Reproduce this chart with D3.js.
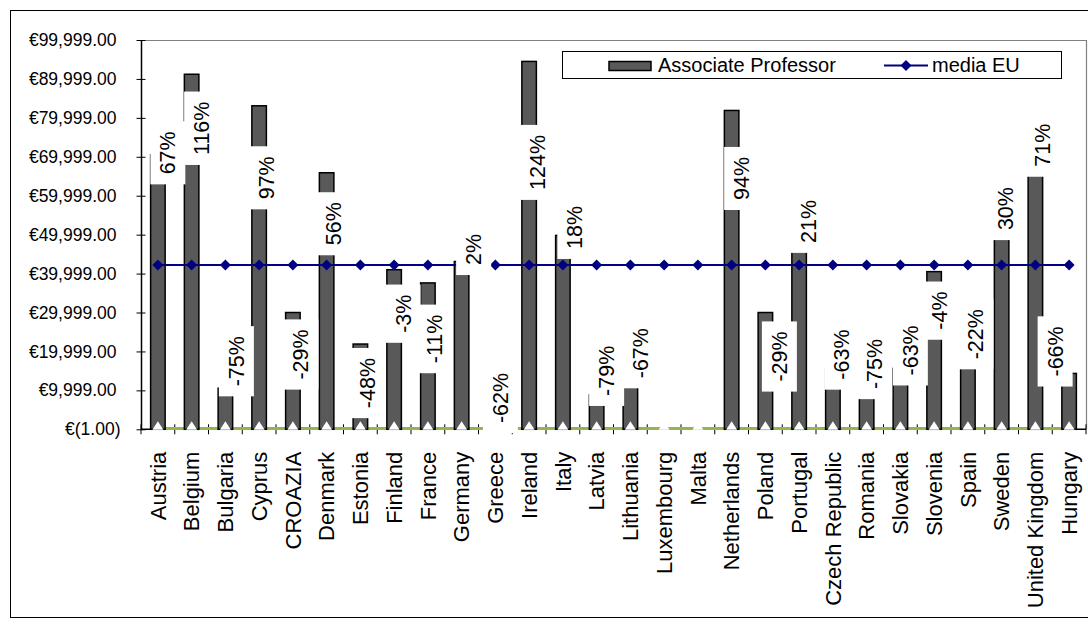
<!DOCTYPE html>
<html>
<head>
<meta charset="utf-8">
<script src="https://cdn.jsdelivr.net/npm/d3@7"></script>
<style>
  html, body { margin: 0; padding: 0; background: #fff; }
  svg { display: block; font-family: "Liberation Sans", Arial, sans-serif; }
</style>
</head>
<body>
<svg id="chart" width="1088" height="624"></svg>
<script>
// ---- data ---------------------------------------------------------------
const countries = [
  "Austria", "Belgium", "Bulgaria", "Cyprus", "CROAZIA", "Denmark", "Estonia",
  "Finland", "France", "Germany", "Greece", "Ireland", "Italy", "Latvia",
  "Lithuania", "Luxembourg", "Malta", "Netherlands", "Poland", "Portugal",
  "Czech Republic", "Romania", "Slovakia", "Slovenia", "Spain", "Sweden",
  "United Kingdom", "Hungary"
];

// Associate Professor salary (EUR); null = no figure available
const associateProfessor = [
  70500, 91200, 10550, 83100, 30000, 65900, 21900,
  41000, 37600, 43100, 16000, 94500, 49800, 8850,
  13900, null, null, 81900, 30000, 51100,
  15600, 10600, 15650, 40500, 32900, 54900,
  72200, 14350
];

// EU average, repeated for every country
const mediaEU = [
  42200, 42200, 42200, 42200, 42200, 42200, 42200,
  42200, 42200, 42200, 42200, 42200, 42200, 42200,
  42200, 42200, 42200, 42200, 42200, 42200,
  42200, 42200, 42200, 42200, 42200, 42200,
  42200, 42200
];

// auxiliary series sitting on the zero line
const zeroSeries = [
  0, 0, 0, 0, 0, 0, 0, 0, 0, 0, 0, 0, 0, 0,
  0, 0, 0, 0, 0, 0, 0, 0, 0, 0, 0, 0, 0, 0
];

const yTicks = [-1, 9999, 19999, 29999, 39999, 49999, 59999, 69999, 79999, 89999, 99999];

const seriesNames = ["Associate Professor", "media EU"];

// ---- layout -------------------------------------------------------------
const plot = { left: 141, right: 1086, top: 40, bottom: 429.3 };

// placement of each percentage label relative to the top of its bar [dx, dy]
const labelNudge = [
  [10, -2], [10, 54], [11, -27], [7, 72], [8, 42], [7, 51], [7, 39],
  [9, 44], [7, 56], [12, -12], [5, 31], [8, 101], [12, -8], [10, -24],
  [10, -22], [0, 0], [0, 0], [10, 68], [14, 44], [9, -9],
  [9, -14], [8, -24], [10, -18], [5, 39], [8, 33], [4, -7],
  [7, -3], [-14, -22]
];

const svg = d3.select("#chart");

const x = d3.scaleBand()
  .domain(countries)
  .range([plot.left, plot.right])
  .paddingInner(0.57)
  .paddingOuter(0.285);

const y = d3.scaleLinear()
  .domain([yTicks[0], yTicks[yTicks.length - 1]])
  .range([plot.bottom, plot.top]);

const cx = c => x(c) + x.bandwidth() / 2;
const fmtNum = d3.format(",.2f");
const fmtEuro = v => v < 0 ? "€(" + fmtNum(-v) + ")" : "€" + fmtNum(v);

// outer chart frame
svg.append("rect")
  .attr("x", 10.5).attr("y", 10.5)
  .attr("width", 1090).attr("height", 607)
  .attr("fill", "none").attr("stroke", "#000").attr("stroke-width", 1);

// plot area frame (top and right edges)
svg.append("path")
  .attr("d", `M${plot.left},${plot.top + 0.5}H${plot.right + 0.5}V${plot.bottom}`)
  .attr("fill", "none").attr("stroke", "#808080").attr("stroke-width", 1.2);

// ---- y axis -------------------------------------------------------------
const yAxis = svg.append("g")
  .attr("transform", `translate(${plot.left},0)`)
  .call(d3.axisLeft(y).tickValues(yTicks).tickFormat(fmtEuro).tickSizeOuter(0));
yAxis.select(".domain").attr("stroke", "#000").attr("stroke-width", 1.5);
yAxis.selectAll(".tick line").attr("x1", -4.5).attr("x2", 4.5).attr("stroke", "#000");
yAxis.selectAll(".tick text")
  .attr("x", d => d < 0 ? -20.5 : -24.5)
  .attr("font-size", 17.5)
  .attr("font-family", "Liberation Sans, Arial, sans-serif")
  .attr("fill", "#000");

// ---- x axis -------------------------------------------------------------
const xAxis = svg.append("g")
  .attr("transform", `translate(0,${y(0)})`)
  .call(d3.axisBottom(x).tickSize(0).tickSizeOuter(0));
xAxis.select(".domain")
  .attr("d", `M${plot.left},0H${plot.right}`)
  .attr("stroke", "#000").attr("stroke-width", 1.5);
xAxis.selectAll(".tick text")
  .attr("transform", "rotate(-90)")
  .attr("x", -22.4).attr("y", 0).attr("dy", "0.35em")
  .attr("text-anchor", "end")
  .attr("font-size", 22)
  .attr("font-family", "Liberation Sans, Arial, sans-serif")
  .attr("fill", "#000");
// tick marks sit between categories and cross the axis
xAxis.selectAll(".sep")
  .data(d3.range(countries.length + 1))
  .join("line")
  .attr("class", "sep")
  .attr("x1", i => plot.left + i * x.step())
  .attr("x2", i => plot.left + i * x.step())
  .attr("y1", -5).attr("y2", 5)
  .attr("stroke", "#000").attr("stroke-width", 1);

// ---- zero-line series (green) --------------------------------------------
svg.append("path")
  .datum(zeroSeries)
  .attr("fill", "none")
  .attr("stroke", "#92b54e")
  .attr("stroke-width", 3.2)
  .attr("transform", "translate(0,-0.8)")
  .attr("d", d3.line().x((d, i) => cx(countries[i])).y(d => y(d)));

// ---- bars ---------------------------------------------------------------
const barData = countries.map((c, i) => ({ c, v: associateProfessor[i], i }))
  .filter(d => d.v != null);

svg.append("g").selectAll("rect")
  .data(barData)
  .join("rect")
  .attr("x", d => x(d.c))
  .attr("width", x.bandwidth())
  .attr("y", d => y(d.v))
  .attr("height", d => y(0) - y(d.v))
  .attr("fill", "#595959")
  .attr("stroke", "#000")
  .attr("stroke-width", 1.5);

// white triangle markers of the zero-line series
svg.append("g").selectAll("path")
  .data(zeroSeries)
  .join("path")
  .attr("transform", (d, i) => `translate(${cx(countries[i])},${y(d)})`)
  .attr("d", "M0,-8L5.5,0.5L-5.5,0.5Z")
  .attr("fill", "#fff");

// ---- EU average line ------------------------------------------------------
svg.append("path")
  .datum(mediaEU)
  .attr("fill", "none")
  .attr("stroke", "#000080")
  .attr("stroke-width", 2)
  .attr("d", d3.line().x((d, i) => cx(countries[i])).y(d => y(d)));

const diamond = "M0,-5.5L5.5,0L0,5.5L-5.5,0Z";
svg.append("g").selectAll("path")
  .data(mediaEU)
  .join("path")
  .attr("transform", (d, i) => `translate(${cx(countries[i])},${y(d)})`)
  .attr("d", diamond)
  .attr("fill", "#000080");

// ---- percentage labels (difference from EU average) ----------------------
const labels = svg.append("g").selectAll("g")
  .data(barData)
  .join("g")
  .attr("transform", d => {
    const [dx, dy] = labelNudge[d.i];
    return `translate(${cx(d.c) + dx},${y(d.v) + dy}) rotate(-90)`;
  });

labels.append("rect").attr("fill", "#fff");
labels.append("text")
  .attr("text-anchor", "middle")
  .attr("dy", "0.35em")
  .attr("font-size", 21.5)
  .attr("fill", "#000")
  .text(d => Math.round((d.v / mediaEU[d.i] - 1) * 100) + "%");

labels.each(function () {
  const g = d3.select(this);
  const len = g.select("text").node().getComputedTextLength();
  g.select("rect")
    .attr("x", -len / 2 - 10).attr("width", len + 20)
    .attr("y", -17.5).attr("height", 35);
});

// ---- legend -------------------------------------------------------------
const legend = svg.append("g");
legend.append("rect")
  .attr("x", 562.5).attr("y", 51.5)
  .attr("width", 499).attr("height", 27)
  .attr("fill", "#fff").attr("stroke", "#000").attr("stroke-width", 1);
legend.append("rect")
  .attr("x", 609).attr("y", 61.5)
  .attr("width", 42).attr("height", 9)
  .attr("fill", "#595959").attr("stroke", "#000").attr("stroke-width", 1.5);
legend.append("text")
  .attr("x", 658).attr("y", 65).attr("dy", "0.35em")
  .attr("font-size", 20).attr("fill", "#000")
  .text(seriesNames[0]);
legend.append("line")
  .attr("x1", 884).attr("x2", 928).attr("y1", 65.5).attr("y2", 65.5)
  .attr("stroke", "#000080").attr("stroke-width", 2);
legend.append("path")
  .attr("transform", "translate(906,65.5)")
  .attr("d", diamond)
  .attr("fill", "#000080");
legend.append("text")
  .attr("x", 932).attr("y", 65).attr("dy", "0.35em")
  .attr("font-size", 20).attr("fill", "#000")
  .text(seriesNames[1]);
</script>
</body>
</html>
